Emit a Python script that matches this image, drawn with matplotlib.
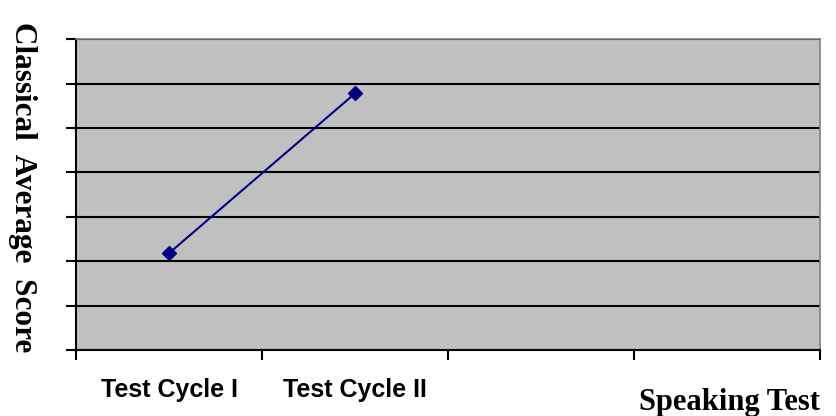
import numpy as np
import matplotlib.pyplot as plt

# data (y scale has no labels, 7 grid steps)
categories = ['Test Cycle I', 'Test Cycle II', '', '']
scores = [2.18, 5.78, np.nan, np.nan]
y_ticks = [0, 1, 2, 3, 4, 5, 6, 7]

fig = plt.figure(figsize=(8.37, 4.16), dpi=100)
ax = fig.add_axes([0.0908, 0.1587, 0.889, 0.747])
ax.set_facecolor('#c0c0c0')

x = np.arange(len(categories)) + 0.5
ax.plot(x, scores, color='#000080', marker='D', markersize=7, linewidth=1.5)

ax.set_xlim(0, len(categories))
ax.set_ylim(0, 7)
ax.set_yticks(y_ticks)
ax.set_yticklabels([])
ax.yaxis.grid(True, color='black', linewidth=1.5)
ax.set_axisbelow(True)

ax.set_xticks(np.arange(len(categories) + 1))
ax.set_xticklabels([])
ax.tick_params(axis='both', direction='out', length=7, width=1.5, color='black')

for xi, lab in zip(x, categories):
    ax.text(xi, -0.13, lab, transform=ax.get_xaxis_transform(),
            ha='center', va='center', fontsize=18, fontweight='bold',
            family='Liberation Sans')

for side in ['left', 'bottom']:
    ax.spines[side].set_linewidth(1.5)
    ax.spines[side].set_color('black')
for side in ['top', 'right']:
    ax.spines[side].set_linewidth(1.2)
    ax.spines[side].set_color('#808080')

fig.text(0.027, 0.55, 'Classical  Average  Score', rotation=-90,
         ha='center', va='center', fontsize=22.5, fontweight='bold',
         family='Liberation Serif')
fig.text(0.98, 0.033, 'Speaking Test', ha='right', va='center',
         fontsize=22, fontweight='bold', family='Liberation Serif')

plt.savefig('out.png', dpi=100)
